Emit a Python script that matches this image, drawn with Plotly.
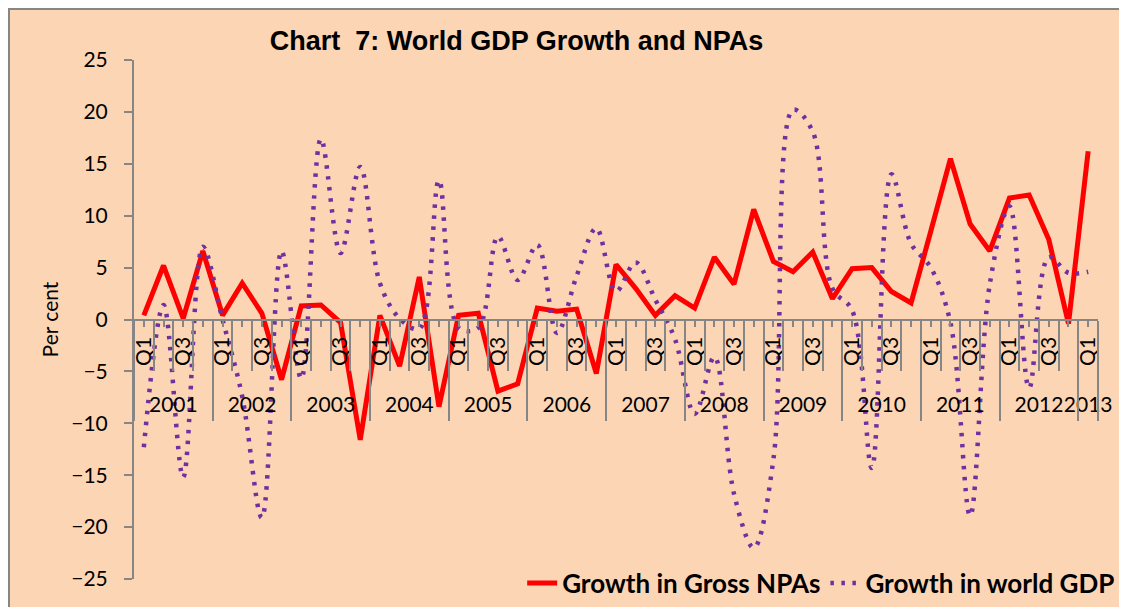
import plotly.graph_objects as go

# ---- data ----
year_labels = ["2001", "2002", "2003", "2004", "2005", "2006", "2007",
               "2008", "2009", "2010", "2011", "2012", "2013"]
quarter_labels = ["Q1", "Q2", "Q3", "Q4"]

npa_growth = [0.4, 5.2, 0.1, 6.6, 0.4, 3.5, 0.6, -5.8,
              1.3, 1.4, -0.3, -11.6, 0.4, -4.5, 4.1, -8.4,
              0.4, 0.6, -6.9, -6.2, 1.1, 0.8, 1.0, -5.2,
              5.3, 3.0, 0.4, 2.3, 1.1, 6.0, 3.4, 10.6,
              5.6, 4.6, 6.5, 2.0, 4.9, 5.0, 2.7, 1.6,
              8.5, 15.5, 9.2, 6.6, 11.7, 12.0, 7.7, -0.4,
              16.2]

gdp_growth = [-12.3, 1.4, -15.2, 7.0, 0.0, -7.4, -19.1, 6.6,
              -5.7, 17.4, 6.4, 14.7, 3.5, 0.1, -0.9, 13.4,
              -0.8, -0.8, 8.0, 3.8, 7.2, -1.3, 4.2, 8.8,
              2.7, 5.5, 1.9, -1.9, -9.1, -3.6, -16.8, -22.0,
              -13.5, 20.2, 18.1, 3.0, 0.9, -14.3, 14.0, 7.3,
              5.0, -0.3, -18.9, 3.4, 10.9, -6.6, 6.0, 4.5,
              4.6]

# ---- category structure ----
n = len(npa_growth)
cat_year = []
cat_q = []
for y in year_labels:
    for q in quarter_labels:
        if len(cat_q) < n:
            cat_year.append(y)
            cat_q.append(q)
idx = list(range(n))

major_vals = [i for i in idx if cat_q[i] in ("Q1", "Q3")]
major_text = [cat_q[i] for i in major_vals]
minor_vals = [i for i in idx if cat_q[i] not in ("Q1", "Q3")]

year_centers = []
for y in year_labels:
    members = [i for i in idx if cat_year[i] == y]
    year_centers.append(sum(members) / len(members))

year_bounds = [i - 0.5 for i in idx if cat_q[i] == "Q1"] + [n - 0.5]
cat_bounds = [i - 0.5 for i in idx if i > 0 and cat_q[i] != "Q1"]

BG = "#FCD5B5"
GRAY = "#868686"
FONT = "Lato"
xr = [-0.5, n - 0.5]

fig = go.Figure()
fig.add_trace(go.Scatter(
    x=idx, y=npa_growth, mode="lines", name="Growth in Gross NPAs",
    line=dict(color="#FF0000", width=5)))
fig.add_trace(go.Scatter(
    x=idx, y=gdp_growth, mode="lines", name="Growth in world GDP",
    line=dict(color="#7030A0", width=4.5, dash="3.5px,7.5px", shape="spline", smoothing=1.0)))
# helpers so the overlay axes are rendered
fig.add_trace(go.Scatter(x=[year_centers[0]], y=[0], xaxis="x2", mode="markers",
                         marker=dict(opacity=0), showlegend=False, hoverinfo="skip"))
fig.add_trace(go.Scatter(x=[year_centers[0]], y=[0], xaxis="x3", mode="markers",
                         marker=dict(opacity=0), showlegend=False, hoverinfo="skip"))

tickfont = dict(family=FONT, size=21, color="black")

L, R, T, B = 126, 37, 52, 36
plot_w = 1127 - L - R

fig.update_layout(
    width=1127, height=607, autosize=False,
    margin=dict(l=L, r=R, t=T, b=B, autoexpand=False),
    paper_bgcolor=BG, plot_bgcolor=BG,
    title=dict(text="Chart\u00a0 7: World GDP Growth and NPAs",
               font=dict(family="Liberation Sans", size=27, color="black", weight="bold"),
               xref="container", yref="container", x=0.4513, y=0.946,
               xanchor="center", yanchor="middle"),
    showlegend=True,
    legend=dict(orientation="h", x=1.023, xanchor="right", y=-0.008, yanchor="middle",
                bgcolor="rgba(0,0,0,0)", font=dict(family=FONT, size=26, color="black", weight="bold")),
    yaxis=dict(range=[-25, 25], tickmode="array", tickvals=list(range(-25, 26, 5)),
               showline=True, linecolor=GRAY, linewidth=2, ticks="outside", ticklen=8,
               tickcolor=GRAY, tickwidth=2, showgrid=False, zeroline=False,
               tickfont=tickfont, ticklabelstandoff=12, automargin=False,
               title=dict(text="Per cent", font=dict(family=FONT, size=21, color="black"), standoff=7)),
    xaxis=dict(range=xr, anchor="free", position=0.5, showline=True, linecolor=GRAY, linewidth=2,
               tickmode="array", tickvals=major_vals, ticktext=major_text, tickangle=-90,
               ticks="outside", ticklen=6, tickcolor=GRAY, tickwidth=2,
               minor=dict(tickmode="array", tickvals=minor_vals, ticks="outside", ticklen=6,
                          tickcolor=GRAY, tickwidth=2),
               ticklabelstandoff=2, showgrid=False, zeroline=False, tickfont=tickfont,
               automargin=False),
    xaxis2=dict(range=xr, overlaying="x", anchor="free", position=0.5, showline=False,
                tickmode="array", tickvals=year_centers, ticktext=year_labels, ticks="",
                tickangle=0, ticklabelstandoff=70, showgrid=False, zeroline=False,
                tickfont=tickfont, automargin=False),
    xaxis3=dict(range=xr, overlaying="x", anchor="free", position=0.5, showline=False,
                tickmode="array", tickvals=year_bounds, ticks="outside", ticklen=100,
                tickcolor=GRAY, tickwidth=2, showticklabels=False,
                minor=dict(tickmode="array", tickvals=cat_bounds, ticks="outside", ticklen=50,
                           tickcolor=GRAY, tickwidth=2),
                showgrid=False, zeroline=False, automargin=False),
    shapes=[dict(type="rect", xref="paper", yref="paper",
                 x0=(1 - L) / plot_w, x1=1.2, y0=-0.2, y1=(607 - B - 1) / (607 - T - B),
                 line=dict(color=GRAY, width=2), layer="below")],
)

fig.write_html("out.html")
